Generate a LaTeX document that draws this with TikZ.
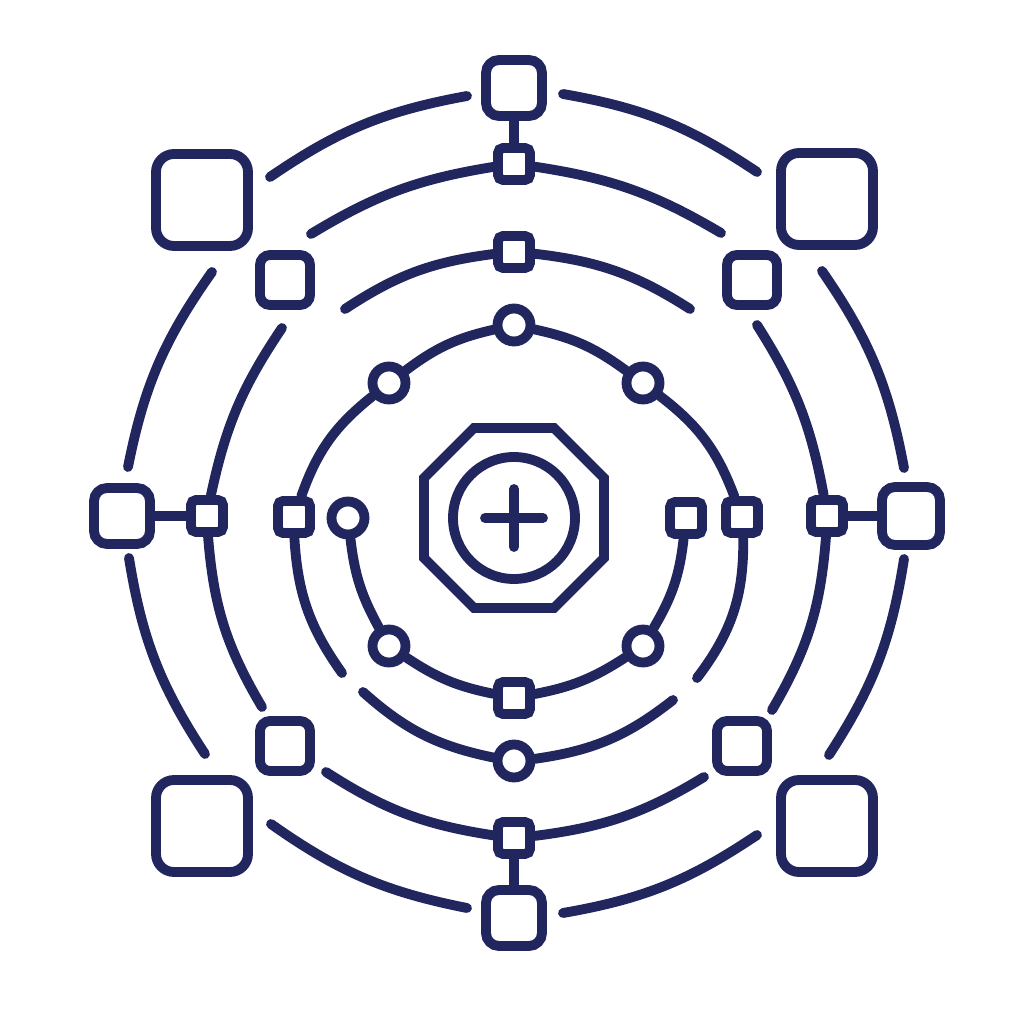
\documentclass[tikz,border=0pt]{standalone}
\definecolor{inkblue}{HTML}{22265E}
\tikzset{ring box/.style={draw, rectangle, rounded corners=0.5mm, minimum size=3.2mm, inner sep=0pt},
    hub box/.style={draw, rectangle, rounded corners=1.3mm, minimum size=5.6mm, inner sep=0pt},
    corner box/.style={draw, rectangle, rounded corners=1.8mm, minimum size=9.2mm, inner sep=0pt},
    side box/.style={draw, rectangle, rounded corners=1mm, minimum size=5mm, inner sep=0pt},
    joint/.style={draw, circle, minimum size=3.3mm, inner sep=0pt}}

\begin{document}
\begin{tikzpicture}[x=0.1mm, y=0.1mm, line width=2.8pt, color=inkblue, line cap=round]
\useasboundingbox (-512,-512) rectangle (512,512);

% hub and spokes
\node[hub box] (tB) at (2,424) {};
\node[ring box] (t4) at (2,348) {};
\node[ring box] (t3) at (2,260) {};
\node[joint] (t2) at (2,187) {};
\node[ring box] (b1) at (2,-186) {};
\node[joint] (b3) at (2,-249) {};
\node[ring box] (b4) at (2,-326) {};
\node[hub box] (bB) at (2,-406) {};
\node[hub box] (lB) at (-390,-4) {};
\node[ring box] (l4) at (-305,-4) {};
\node[ring box] (l3) at (-218,-5) {};
\node[joint] (l1) at (-164,-6) {};
\node[ring box] (r1) at (174,-6) {};
\node[ring box] (r3) at (230,-5) {};
\node[ring box] (r4) at (315,-4) {};
\node[hub box, minimum size=5.8mm] (rB) at (399,-4) {};
\node[joint] (c2a) at (-123,129) {};
\node[joint] (c2b) at (131,129) {};
\node[joint] (c1a) at (-123,-134) {};
\node[joint] (c1b) at (131,-134) {};

% corners
\node[corner box] (TL) at (-310,312) {};
\node[corner box] (TR) at (315,313) {};
\node[corner box] (BL) at (-310,-314) {};
\node[corner box] (BR) at (315,-314) {};
\node[side box] (tl) at (-227,232) {};
\node[side box] (tr) at (240,232) {};
\node[side box] (bl) at (-227,-234) {};
\node[side box] (br) at (230,-234) {};

% core
\node[circle, draw, minimum size=12.2mm, inner sep=0pt] (core) at (2,-6) {};
\draw (-38,84) -- (42,84) -- (92,34) -- (92,-46) -- (42,-96) -- (-38,-96) -- (-88,-46) -- (-88,34) -- cycle;
\draw (-27,-6) -- (31,-6);
\draw (2,23) -- (2,-35);

% outer ring
\coordinate (o1) at (-242,335);
\coordinate (o2) at (-45,416);
\coordinate (o3) at (51,418);
\coordinate (o4) at (245,340);
\coordinate (o5) at (310,241);
\coordinate (o6) at (392,44);
\coordinate (o7) at (392,-47);
\coordinate (o8) at (317,-243);
\coordinate (o9) at (245,-323);
\coordinate (o10) at (51,-401);
\coordinate (o11) at (-45,-396);
\coordinate (o12) at (-241,-312);
\coordinate (o13) at (-307,-242);
\coordinate (o14) at (-383,-46);
\coordinate (o15) at (-384,45);
\coordinate (o16) at (-300,240);
\draw (o1) to[bend left=12] (o2);
\draw (o3) to[bend left=12] (o4);
\draw (o5) to[bend left=12] (o6);
\draw (o7) to[bend left=12] (o8);
\draw (o9) to[bend left=12] (o10);
\draw (o11) to[bend left=12] (o12);
\draw (o13) to[bend left=12] (o14);
\draw (o15) to[bend left=12] (o16);

% second ring
\coordinate (m1) at (-201,278);
\coordinate (m2) at (209,279);
\coordinate (m3) at (245,187);
\coordinate (m4) at (260,-198);
\coordinate (m5) at (192,-265);
\coordinate (m6) at (-186,-260);
\coordinate (m7) at (-250,-195);
\coordinate (m8) at (-230,184);
\draw (m1) to[bend left=11] (t4);
\draw (t4) to[bend left=11] (m2);
\draw (m3) to[bend left=11] (r4);
\draw (r4) to[bend left=13] (m4);
\draw (m5) to[bend left=12] (b4);
\draw (b4) to[bend left=12] (m6);
\draw (m7) to[bend left=13] (l4);
\draw (l4) to[bend left=11] (m8);

% third ring
\coordinate (n1) at (-167,203);
\coordinate (n2) at (178,203);
\coordinate (n3) at (161,-188);
\coordinate (n4) at (-149,-180);
\draw (n1) to[bend left=13] (t3);
\draw (t3) to[bend left=13] (n2);
\draw (n3) to[bend left=15] (b3);
\draw (b3) to[bend left=15] (n4);

% joints ring
\coordinate (p1) at (185,-166);
\coordinate (p2) at (-170,-161);
\draw (p2) to[bend left=16] (l3);
\draw (l3) to[bend left=16] (c2a);
\draw (c2a) to[bend left=12] (t2);
\draw (t2) to[bend left=12] (c2b);
\draw (c2b) to[bend left=16] (r3);
\draw (r3) to[bend left=19] (p1);
\draw (r1) to[bend left=12] (c1b);
\draw (c1b) to[bend left=11] (b1);
\draw (b1) to[bend left=11] (c1a);
\draw (c1a) to[bend left=11] (l1);

% stems
\draw (tB) -- (t4);
\draw (bB) -- (b4);
\draw (lB) -- (l4);
\draw (rB) -- (r4);

\end{tikzpicture}
\end{document}
